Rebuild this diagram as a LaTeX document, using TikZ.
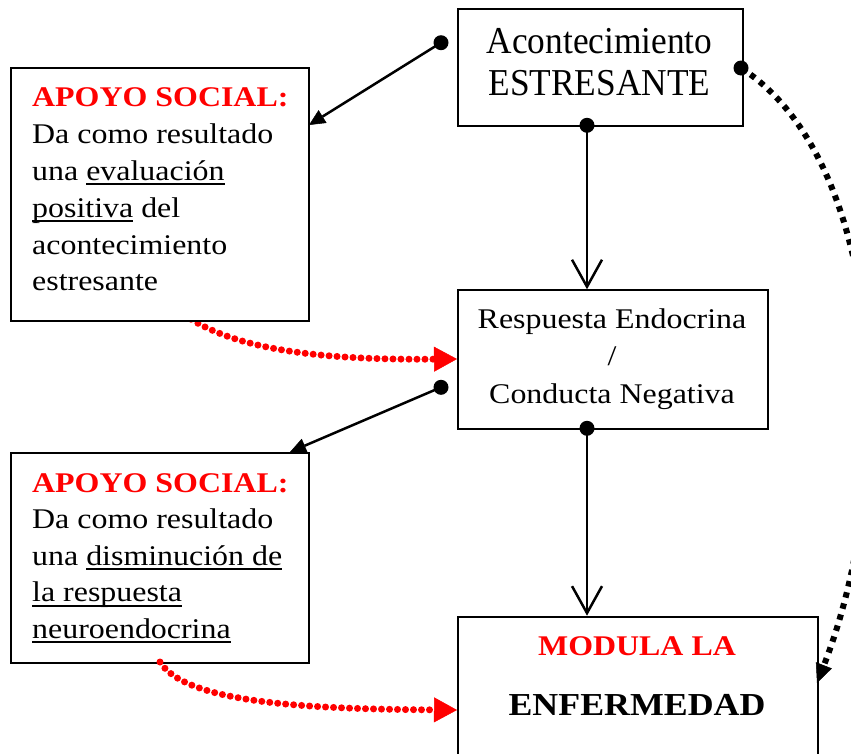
\documentclass[tikz,border=0pt]{standalone}
\usepackage{fontspec}
\setmainfont{Liberation Serif}[FakeStretch=1.12]
\newfontfamily\topfont{Liberation Serif}[FakeStretch=0.93]
\newcommand\myul[1]{\leavevmode\setbox0\hbox{#1}\rlap{\rule[-5.3pt]{\wd0}{2pt}}\box0\relax}
\usetikzlibrary{arrows.meta}
\begin{document}
\begin{tikzpicture}[x=1pt,y=-1pt,
  box/.style={draw,line width=2pt,fill=white,anchor=north west,inner sep=0pt},
  txtl/.style={anchor=base west,inner sep=0pt,font=\fontsize{28.5}{34}\selectfont},
  txtc/.style={anchor=base,inner sep=0pt,font=\fontsize{28.5}{34}\selectfont},
  toptxt/.style={anchor=base,inner sep=0pt,font=\topfont\fontsize{38}{44}\selectfont},
  redhead/.style={text=red,font=\fontsize{28.5}{34}\selectfont\bfseries},
  conn/.style={line width=2.5pt},
  solidtip/.style={-{Triangle[length=16pt,width=15pt,line width=0.5pt]}},
  opentip/.style={-{Straight Barb[length=27pt,width=30pt]}},
  blackdots/.style={line width=6pt,dash pattern=on 5.5pt off 6pt,-{Triangle[length=19pt,width=17pt,line width=0.5pt]}},
  reddots/.style={red,line width=7pt,line cap=round,dash pattern=on 0pt off 8pt,-{Triangle[length=23pt,width=25pt,line width=0.5pt]}},
  dot/.style={fill=black}]
\useasboundingbox (0,0) rectangle (851,753);
\clip (0,0) rectangle (851,753);

% red curve hidden start (drawn before boxes)
\coordinate (r1s) at (178,310);
\coordinate (r1e) at (457,359);
\draw[reddots] (r1s) .. controls (230,352) and (330,360) .. (r1e);

% boxes
\node[box,minimum width=285pt,minimum height=117pt] (b0) at (457,8.3) {};
\node[box,minimum width=298pt,minimum height=253pt] (b1) at (10,67) {};
\node[box,minimum width=298pt,minimum height=210pt] (b2) at (10,452) {};
\node[box,minimum width=309.5pt,minimum height=139pt] (b3) at (457.3,289.3) {};
\node[box,minimum width=360pt,minimum height=160pt] (b4) at (457,615.7) {};

% top box text
\node[toptxt] (t0a) at (599.5,53.5) {Acontecimiento};
\node[toptxt] (t0b) at (599.5,95) {ESTRESANTE};

% box 1 text
\node[txtl,redhead] (t1a) at (32,106.5) {APOYO SOCIAL:};
\node[txtl] (t1b) at (32,143.3) {Da como resultado};
\node[txtl] (t1c) at (32,180) {una \myul{evaluación}};
\node[txtl] (t1d) at (32,217) {\myul{positiva} del};
\node[txtl] (t1e) at (32,254) {acontecimiento};
\node[txtl] (t1f) at (32,290.5) {estresante};

% box 2 text
\node[txtl,redhead] (t2a) at (32,492) {APOYO SOCIAL:};
\node[txtl] (t2b) at (32,528.5) {Da como resultado};
\node[txtl] (t2c) at (32,565) {una \myul{disminución de}};
\node[txtl] (t2d) at (32,601.5) {\myul{la respuesta}};
\node[txtl] (t2e) at (32,638) {\myul{neuroendocrina}};

% box 3 text
\node[txtc] (t3a) at (612,328.3) {Respuesta Endocrina};
\node[txtc] (t3b) at (612,365) {/};
\node[txtc] (t3c) at (612,403.3) {Conducta Negativa};

% box 4 text
\node[txtc,redhead] (t4a) at (637,655) {MODULA LA};
\node[anchor=base,inner sep=0pt,font=\fontsize{32}{38}\selectfont\bfseries] (t4b) at (637,715) {ENFERMEDAD};

% connectors
\coordinate (d1) at (441,42.7);
\coordinate (e1) at (309,125);
\draw[conn,solidtip] (d1) -- (e1);
\fill[dot] (d1) circle (7.5pt);

\coordinate (d2) at (587,125.3);
\draw[conn,opentip] (d2) -- (d2 |- b3.north);
\fill[dot] (d2) circle (7.5pt);

\coordinate (d3) at (441,387.3);
\coordinate (e3) at (290,452);
\draw[conn,solidtip] (d3) -- (e3);
\fill[dot] (d3) circle (7.5pt);

\coordinate (d4) at (587,428.3);
\draw[conn,opentip] (d4) -- (d4 |- b4.north);
\fill[dot] (d4) circle (7.5pt);

\coordinate (d5) at (741,68);
\coordinate (e5) at (817,683);
\draw[blackdots] (d5) .. controls (885,160) and (900,470) .. (e5);
\fill[dot] (d5) circle (7.5pt);

\coordinate (r2s) at (160,662);
\coordinate (r2e) at (457,710);
\draw[reddots] (r2s) .. controls (185,702) and (300,709) .. (r2e);
\end{tikzpicture}
\end{document}
